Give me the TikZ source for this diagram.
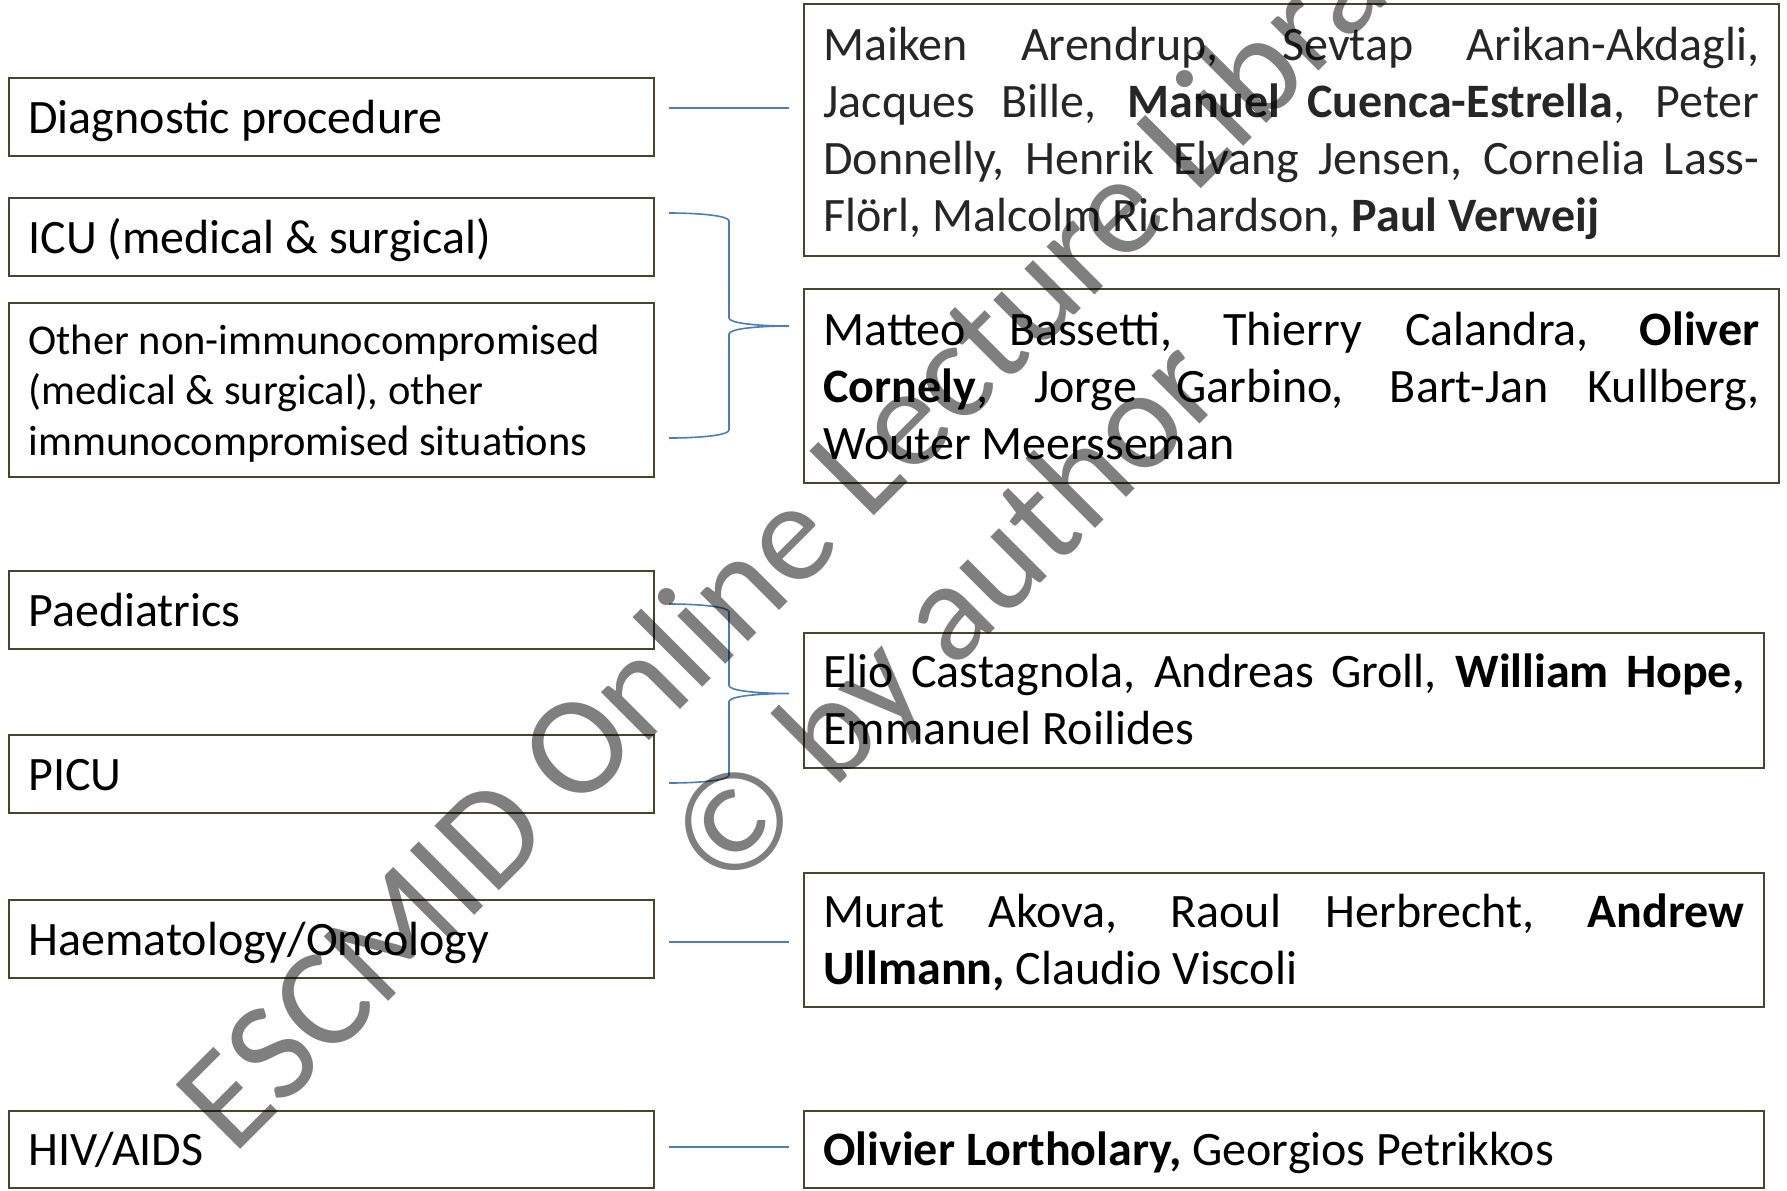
\documentclass[tikz,border=0pt]{standalone}
\usepackage{fontspec}
\setmainfont{Carlito}
\definecolor{boxline}{RGB}{74,69,42}
\definecolor{connblue}{RGB}{74,126,187}
\definecolor{darktext}{RGB}{38,38,38}
\tikzset{
  lbox/.style={draw=boxline, line width=1.3pt, rectangle, inner sep=0pt, minimum width=322.5pt},
  rboxa/.style={draw=boxline, line width=1.3pt, rectangle, inner sep=0pt, minimum width=487.5pt},
  rboxb/.style={draw=boxline, line width=1.3pt, rectangle, inner sep=0pt, minimum width=480pt},
  ltext/.style={anchor=base west, inner sep=0pt, font=\fontsize{24pt}{28.8pt}\selectfont},
  otext/.style={anchor=base west, inner sep=0pt, font=\fontsize{21.25pt}{25.25pt}\selectfont},
  rtext/.style={anchor=base west, inner sep=0pt, font=\fontsize{24pt}{28.5pt}\selectfont},
  connline/.style={draw=connblue, line width=1.2pt},
  braceline/.style={draw=connblue, line width=0.8pt},
  wmark/.style={anchor=base, rotate=45, inner sep=0pt, text=black, text opacity=0.5, font=\fontsize{71pt}{85pt}\selectfont}
}
\begin{document}
\begin{tikzpicture}[x=0.5pt,y=-0.5pt]
\useasboundingbox (0,0) rectangle (1787,1190);
\fill[white] (0,0) rectangle (1787,1190);

% left boxes
\node[lbox, minimum height=39pt] (diag) at (331.5,117) {};
\node[lbox, minimum height=39pt] (icu) at (331.5,237) {};
\node[lbox, minimum height=87pt] (other) at (331.5,390) {};
\node[lbox, minimum height=39pt] (paed) at (331.5,610) {};
\node[lbox, minimum height=39pt] (picu) at (331.5,774) {};
\node[lbox, minimum height=39pt] (haem) at (331.5,939) {};
\node[lbox, minimum height=38.5pt] (hiv) at (331.5,1149.5) {};

\node[ltext] (diagT) at (28,133.5) {Diagnostic procedure};
\node[ltext] (icuT) at (28,253) {ICU (medical \& surgical)};
\node[otext] (otherT) at (28,354) {\parbox[t]{310pt}{Other non-immunocompromised\\(medical \& surgical), other\\immunocompromised situations}};
\node[ltext] (paedT) at (28,626) {Paediatrics};
\node[ltext] (picuT) at (28,790) {PICU};
\node[ltext] (haemT) at (28,955) {Haematology/Oncology};
\node[ltext] (hivT) at (28,1165.5) {HIV/AIDS};

% right boxes
\node[rboxa, minimum height=126pt] (r1) at (1291.5,130) {};
\node[rboxa, minimum height=97pt] (r2) at (1291.5,386) {};
\node[rboxb, minimum height=67.5pt] (r3) at (1284,700.5) {};
\node[rboxb, minimum height=67pt] (r4) at (1284,940) {};
\node[rboxb, minimum height=38.5pt] (r5) at (1284,1149.5) {};

\node[rtext, text=darktext] (r1T) at (823,60) {\parbox[t]{468pt}{%
\makebox[468pt][s]{Maiken Arendrup, Sevtap Arikan-Akdagli,}\\
\makebox[468pt][s]{Jacques Bille, \textbf{Manuel Cuenca-Estrella}, Peter}\\
\makebox[468pt][s]{Donnelly, Henrik Elvang Jensen, Cornelia Lass-}\\
Flörl, Malcolm Richardson, \textbf{Paul Verweij}}};
\node[rtext] (r2T) at (823,345) {\parbox[t]{468pt}{%
\makebox[468pt][s]{Matteo Bassetti, Thierry Calandra, \textbf{Oliver}}\\
\makebox[468pt][s]{\textbf{Cornely}, Jorge Garbino, Bart-Jan Kullberg,}\\
Wouter Meersseman}};
\node[rtext] (r3T) at (823,687.5) {\parbox[t]{460.5pt}{%
\makebox[460.5pt][s]{Elio Castagnola, Andreas Groll, \textbf{William Hope,}}\\
Emmanuel Roilides}};
\node[rtext] (r4T) at (823,927) {\parbox[t]{460.5pt}{%
\makebox[460.5pt][s]{Murat Akova, Raoul Herbrecht, \textbf{Andrew}}\\
\textbf{Ullmann,} Claudio Viscoli}};
\node[rtext] (r5T) at (823,1165) {\textbf{Olivier Lortholary,} Georgios Petrikkos};

% straight connectors
\coordinate (c1a) at (669,108); \coordinate (c1b) at (789,108);
\coordinate (c4a) at (669,942); \coordinate (c4b) at (789,942);
\coordinate (c5a) at (669,1147); \coordinate (c5b) at (789,1147);
\draw[connline] (c1a) -- (c1b);
\draw[connline] (c4a) -- (c4b);
\draw[connline] (c5a) -- (c5b);

% braces
\coordinate (b1t) at (669,213); \coordinate (b1m) at (789,326); \coordinate (b1b) at (669,438);
\draw[braceline] (b1t) .. controls (702,213) and (729,216) .. (729,221) -- (729,318)
  .. controls (729,323) and (756,326) .. (b1m)
  .. controls (756,326) and (729,329) .. (729,334) -- (729,430)
  .. controls (729,435) and (702,438) .. (b1b);
\coordinate (b2t) at (669,604); \coordinate (b2m) at (789,693.5); \coordinate (b2b) at (669,783);
\draw[braceline] (b2t) .. controls (702,604) and (729,607) .. (729,612) -- (729,685.5)
  .. controls (729,690.5) and (756,693.5) .. (b2m)
  .. controls (756,693.5) and (729,696.5) .. (729,701.5) -- (729,775)
  .. controls (729,780) and (702,783) .. (b2b);

% watermark
\begin{scope}
\clip (0,0) rectangle (1787,1190);
\node[wmark] (wm1) at (854,536) {ESCMID Online Lecture Library};
\node[wmark] (wm2) at (978,646) {© by author};
\end{scope}
\end{tikzpicture}
\end{document}
